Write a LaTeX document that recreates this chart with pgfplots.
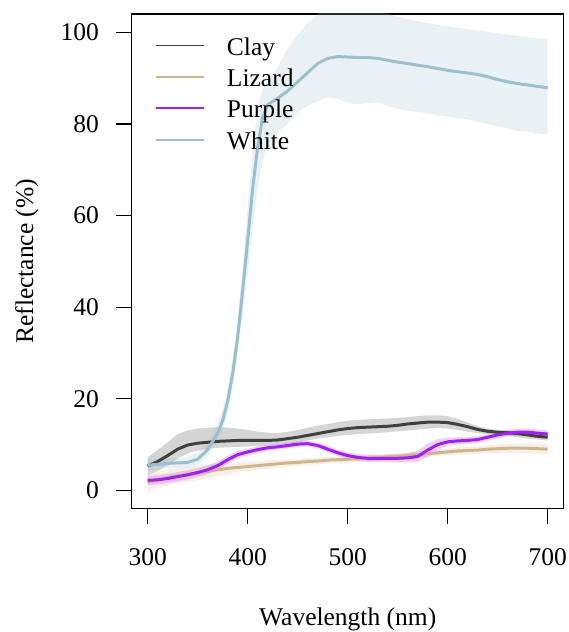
\documentclass[border=0pt]{standalone}
\usepackage{fontspec}
\setmainfont{Liberation Serif}
\usepackage{pgfplots}
\pgfplotsset{compat=1.18}
\usepgfplotslibrary{fillbetween}
\usepackage{pgfplotstable}

\definecolor{claycol}{HTML}{404040}
\definecolor{lizcol}{HTML}{D2B48C}
\definecolor{purpcol}{HTML}{A020F0}
\definecolor{whitecol}{HTML}{9AC0CD}

\newcommand{\bigfont}{\fontsize{25.5pt}{30pt}\selectfont}

% x = wavelength, y = mean reflectance, lo/hi = shaded band
\pgfplotstableread{
x y lo hi
300 5.3 3.3 7.2
310 6.3 4.2 8.8
320 7.6 5.5 10.5
330 9.0 7.0 12.3
340 9.9 8.1 13.1
350 10.3 8.7 13.5
360 10.5 9.1 13.7
370 10.7 9.3 13.8
380 10.8 9.4 13.7
390 10.9 9.5 13.5
400 10.9 9.6 13.2
410 10.9 9.7 12.8
420 10.9 9.8 12.6
430 11.0 9.9 12.5
440 11.3 10.2 12.8
450 11.6 10.5 13.2
460 12.0 10.9 13.7
470 12.4 11.3 14.1
480 12.8 11.6 14.5
490 13.2 11.9 14.9
500 13.5 12.1 15.2
510 13.7 12.3 15.4
520 13.8 12.4 15.5
530 13.9 12.5 15.6
540 14.0 12.7 15.7
550 14.2 12.9 15.8
560 14.5 13.1 16.0
570 14.7 13.3 16.2
580 14.9 13.5 16.4
590 14.9 13.6 16.4
600 14.8 13.5 16.2
610 14.4 13.2 15.6
620 13.9 12.8 14.8
630 13.3 12.5 14.0
640 12.9 12.3 13.5
650 12.7 12.1 13.2
660 12.6 11.9 13.0
670 12.4 11.6 12.9
680 12.1 11.3 12.7
690 11.8 11.1 12.6
700 11.6 10.9 12.5
}\clay

\pgfplotstableread{
x y lo hi
300 1.8 0.0 3.6
310 2.3 0.6 4.0
320 2.8 1.1 4.5
330 3.2 1.55 4.85
340 3.5 1.9 5.1
350 3.8 2.2 5.4
360 4.1 2.6 5.6
370 4.5 3.1 5.9
380 4.8 3.5 6.1
390 5.0 3.9 6.1
400 5.2 4.2 6.2
410 5.4 4.45 6.35
420 5.6 4.7 6.5
430 5.8 4.95 6.65
440 6.0 5.2 6.8
450 6.1 5.3 6.9
460 6.3 5.55 7.05
470 6.4 5.65 7.15
480 6.6 5.9 7.3
490 6.7 6.0 7.4
500 6.8 6.1 7.5
510 6.9 6.2 7.6
520 7.0 6.3 7.7
530 7.1 6.4 7.8
540 7.3 6.6 8.0
550 7.4 6.7 8.1
560 7.6 6.9 8.3
570 7.8 7.1 8.5
580 8.0 7.3 8.7
590 8.2 7.5 8.9
600 8.4 7.7 9.1
610 8.6 7.85 9.35
620 8.7 7.9 9.5
630 8.8 7.95 9.65
640 9.0 8.1 9.9
650 9.1 8.2 10.0
660 9.2 8.25 10.15
670 9.2 8.2 10.2
680 9.2 8.1 10.3
690 9.1 7.95 10.25
700 9.0 7.8 10.2
}\lizard

\pgfplotstableread{
x y lo hi
300 2.2 1.2 3.2
310 2.3 1.3 3.3
320 2.6 1.6 3.6
330 3.0 2.0 4.0
340 3.4 2.4 4.4
350 3.9 2.9 4.9
360 4.5 3.55 5.45
370 5.4 4.5 6.3
380 6.7 5.85 7.55
390 7.8 7.0 8.6
400 8.4 7.7 9.1
410 8.9 8.2 9.6
420 9.3 8.65 9.95
430 9.5 8.9 10.1
440 9.8 9.2 10.4
450 10.1 9.5 10.7
460 10.2 9.6 10.8
470 9.8 9.2 10.4
480 9.0 8.35 9.65
490 8.2 7.5 8.9
500 7.6 6.9 8.3
510 7.2 6.45 7.95
520 7.0 6.2 7.8
530 7.0 6.2 7.8
540 7.0 6.15 7.85
550 7.0 6.1 7.9
560 7.1 6.1 8.1
570 7.4 6.2 8.6
580 8.8 7.3 10.3
590 10.0 8.8 11.2
600 10.6 9.7 11.5
610 10.8 10.0 11.6
620 10.9 10.15 11.65
630 11.1 10.4 11.8
640 11.6 10.9 12.3
650 12.1 11.4 12.8
660 12.5 11.8 13.2
670 12.7 11.95 13.45
680 12.7 11.9 13.5
690 12.5 11.7 13.3
700 12.3 11.5 13.1
}\purple

\pgfplotstableread{
x y lo hi
300 5.5 4.2 6.8
310 5.7 4.5 6.9
320 5.9 4.8 7.0
330 6.0 4.9 7.1
340 6.1 5.0 7.3
350 6.8 5.5 8.2
360 8.9 7.4 10.5
370 12.5 10.6 14.5
375 15.3 13.0 17.8
380 19.5 17.0 22.5
385 25.5 22.5 29.0
390 33.5 30.0 37.5
395 43.7 38.5 49.0
400 54.6 47.0 62.0
405 66.0 58.0 74.0
410 75.0 66.0 84.0
415 81.5 72.0 87.5
420 84.2 75.0 89.0
430 85.6 78.0 92.5
440 87.2 80.0 96.5
450 89.2 82.5 99.5
460 91.2 84.0 102.0
470 93.2 85.0 104.0
480 94.3 85.8 105.5
490 94.7 85.5 106.0
500 94.6 84.6 106.0
510 94.5 84.3 105.5
520 94.5 84.5 105.0
530 94.3 84.7 104.6
540 93.9 84.0 104.1
550 93.5 83.3 103.4
560 93.2 82.8 102.9
570 92.8 82.6 102.4
580 92.5 82.3 102.0
590 92.1 81.9 101.6
600 91.7 81.6 101.3
610 91.4 81.3 101.0
620 91.1 81.0 100.7
630 90.8 80.5 100.4
640 90.3 80.0 100.1
650 89.7 79.5 99.8
660 89.2 79.0 99.5
670 88.8 78.5 99.2
680 88.5 78.2 98.9
690 88.2 77.9 98.7
700 87.9 77.7 98.5
}\white

\begin{document}
\begin{tikzpicture}
\begin{axis}[
    at={(0pt,0pt)}, anchor=south west,
    width=432pt, height=494.7pt, scale only axis,
    xmin=284, xmax=716, ymin=-4, ymax=104,
    axis line style={black, line width=1.2pt},
    every tick/.style={black, line width=1.2pt},
    tick align=outside, major tick length=15.6pt,
    xtick pos=lower, ytick pos=left,
    xtick={300,400,500,600,700},
    ytick={0,20,40,60,80,100},
    /pgf/number format/assume math mode=true,
    xticklabel style={font=\bigfont, anchor=north, inner sep=0pt, yshift=-24pt},
    yticklabel style={font=\bigfont, anchor=east, inner sep=0pt, xshift=-17pt},
    xlabel={Wavelength (nm)},
    ylabel={Reflectance (\%)},
    xlabel style={font=\bigfont, at={(axis description cs:0.5,-0.2355)}, anchor=base, inner sep=0pt},
    ylabel style={font=\bigfont, at={(axis description cs:-0.228,0.5)}, anchor=base, inner sep=0pt},
    legend style={font=\bigfont, draw=none, fill=none, inner sep=0pt,
        at={(axis description cs:0.0539,0.9685)}, anchor=north west,
        row sep=0pt,
        nodes={inner sep=0pt, text height=25.4pt, text depth=6pt},
        /tikz/every odd column/.append style={column sep=22pt}},
    legend cell align=left,
    legend image code/.code={\draw[#1, line width=1.8pt] (0pt,0pt) -- (48pt,0pt);},
    line join=round,
  ]
  % shaded bands
  \addplot[draw=none, name path=cU, forget plot] table[x=x, y=hi] {\clay};
  \addplot[draw=none, name path=cL, forget plot] table[x=x, y=lo] {\clay};
  \addplot[fill=claycol, fill opacity=0.22, forget plot] fill between[of=cU and cL];
  \addplot[draw=none, name path=lU, forget plot] table[x=x, y=hi] {\lizard};
  \addplot[draw=none, name path=lL, forget plot] table[x=x, y=lo] {\lizard};
  \addplot[fill=lizcol, fill opacity=0.2, forget plot] fill between[of=lU and lL];
  \addplot[draw=none, name path=pU, forget plot] table[x=x, y=hi] {\purple};
  \addplot[draw=none, name path=pL, forget plot] table[x=x, y=lo] {\purple};
  \addplot[fill=purpcol, fill opacity=0.2, forget plot] fill between[of=pU and pL];
  \addplot[draw=none, name path=wU, forget plot] table[x=x, y=hi] {\white};
  \addplot[draw=none, name path=wL, forget plot] table[x=x, y=lo] {\white};
  \addplot[fill=whitecol, fill opacity=0.22, forget plot] fill between[of=wU and wL];

  % mean curves
  \addplot[claycol, line width=3pt, forget plot] table[x=x, y=y] {\clay};
  \addplot[lizcol, line width=3pt, forget plot] table[x=x, y=y] {\lizard};
  \addplot[whitecol, line width=3pt, forget plot] table[x=x, y=y] {\white};
  \addplot[purpcol, line width=3pt, forget plot] table[x=x, y=y] {\purple};

  \addlegendimage{claycol}
  \addlegendentry{Clay}
  \addlegendimage{lizcol}
  \addlegendentry{Lizard}
  \addlegendimage{purpcol}
  \addlegendentry{Purple}
  \addlegendimage{whitecol}
  \addlegendentry{White}
\end{axis}
\pgfresetboundingbox
\path[use as bounding box] (-131.7pt,-123.3pt) rectangle (436.3pt,508.7pt);
\end{tikzpicture}
\end{document}
